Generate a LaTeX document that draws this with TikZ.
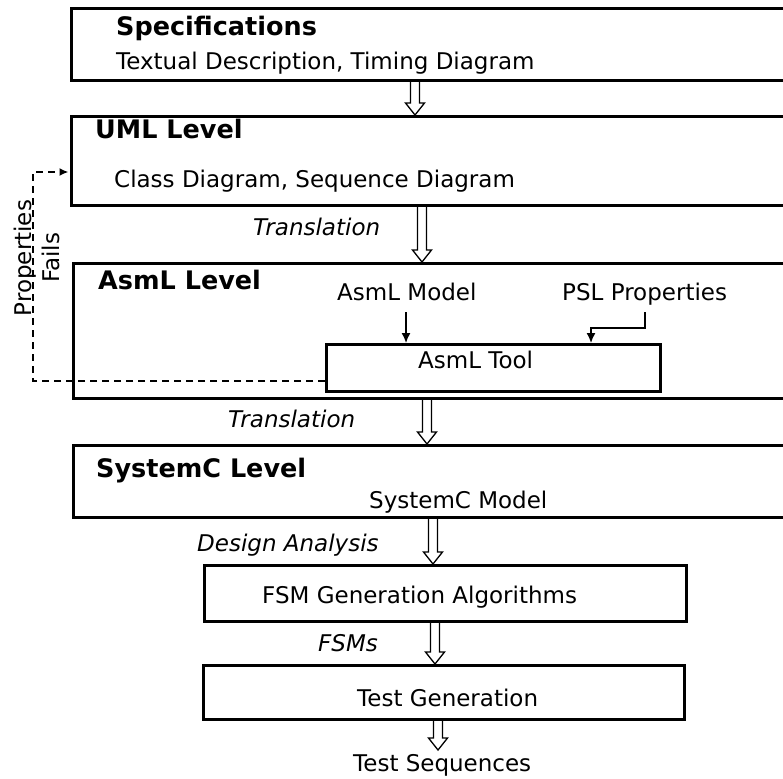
\documentclass[tikz,border=0pt]{standalone}
\usepackage{fontspec}
\setmainfont{DejaVu Sans}
\usetikzlibrary{arrows.meta,calc}

\begin{document}
\begin{tikzpicture}[x=1pt,y=-1pt,
  box/.style={draw, line width=2.6pt, anchor=north west, inner sep=0pt},
  lvl/.style={anchor=base west, inner sep=0pt, font=\fontsize{25.5}{30}\selectfont\bfseries},
  txt/.style={anchor=base west, inner sep=0pt, font=\fontsize{23}{28}\selectfont},
  itxt/.style={txt, font=\fontsize{23}{28}\selectfont\itshape},
  hollow/.style={draw, line width=1.3pt, line join=miter,
    to path={let \p1=(\tikztostart), \p2=(\tikztotarget) in
      (\x1-4.5pt,\y1) -- (\x1-4.5pt,\y2+12pt) -- (\x1-9.5pt,\y2+12pt) -- (\x1,\y2)
      -- (\x1+9.5pt,\y2+12pt) -- (\x1+4.5pt,\y2+12pt) -- (\x1+4.5pt,\y1)}},
  feed/.style={line width=1.5pt, -{Latex[length=10pt,width=9pt]}},
  fail/.style={line width=1.9pt, dash pattern=on 7pt off 5pt, -{Latex[length=9pt,width=8pt]}}
]
\useasboundingbox (0,0) rectangle (783,778);
\clip (0,0) rectangle (783,778);

% level boxes (open to the right)
\node[box, minimum width=730, minimum height=72] (spec) at (70,7) {};
\node[box, minimum width=730, minimum height=89] (uml) at (70,115) {};
\node[box, minimum width=728, minimum height=135] (asml) at (72,262) {};
\node[box, minimum width=728, minimum height=72] (sysc) at (72,444) {};
\node[box, minimum width=334, minimum height=47] (tool) at (325,343) {};
\node[box, minimum width=482, minimum height=56] (fsm) at (203,564) {};
\node[box, minimum width=481, minimum height=54] (testgen) at (202,664) {};

% box texts
\node[lvl] (spect) at (116,36) {Specifications};
\node[txt] (specd) at (116,70) {Textual Description, Timing Diagram};
\node[lvl] (umlt) at (95,139) {UML Level};
\node[txt] (umld) at (114,187) {Class Diagram, Sequence Diagram};
\node[lvl] (asmlt) at (98,289) {AsmL Level};
\node[txt] (amodel) at (337,300) {AsmL Model};
\node[txt] (psl) at (562,300) {PSL Properties};
\node[txt] (toolt) at (418,368) {AsmL Tool};
\node[lvl] (syst) at (96,477) {SystemC Level};
\node[txt] (sysm) at (369,508) {SystemC Model};
\node[txt] (fsmt) at (262,603) {FSM Generation Algorithms};
\node[txt] (testt) at (357,706) {Test Generation};
\node[txt] (seq) at (353,771) {Test Sequences};

% transition labels
\node[itxt] (tr1) at (253,235) {Translation};
\node[itxt] (tr2) at (228,427) {Translation};
\node[itxt] (da) at (197,551) {Design Analysis};
\node[itxt] (fsms) at (318,651) {FSMs};
\node[txt, anchor=center, rotate=90, align=center] (pf) at (37,258) {Properties\\Fails};

% flow arrows between levels
\draw[hollow] (spec.south -| 415,0) to (uml.north -| 415,0);
\draw[hollow] (uml.south -| 422,0) to (asml.north -| 422,0);
\draw[hollow] (asml.south -| 427,0) to (sysc.north -| 427,0);
\draw[hollow] (sysc.south -| 433,0) to (fsm.north -| 433,0);
\draw[hollow] (fsm.south -| 435,0) to (testgen.north -| 435,0);
\coordinate (seqtop) at (438,750);
\draw[hollow] (testgen.south -| 438,0) to (seqtop);

% inputs of the AsmL tool
\draw[feed] ([yshift=-12pt]amodel.base -| 406,0) -- (tool.north -| 406,0);
\draw[feed] ([yshift=-12pt]psl.base -| 645,0) -- ++(0,16) -| (tool.north -| 591,0);

% failing properties go back to the UML level
\draw[fail] ([yshift=12pt]tool.south west) -| (33,172) -- ([xshift=-1.5pt]uml.west |- 0,172);
\end{tikzpicture}
\end{document}
